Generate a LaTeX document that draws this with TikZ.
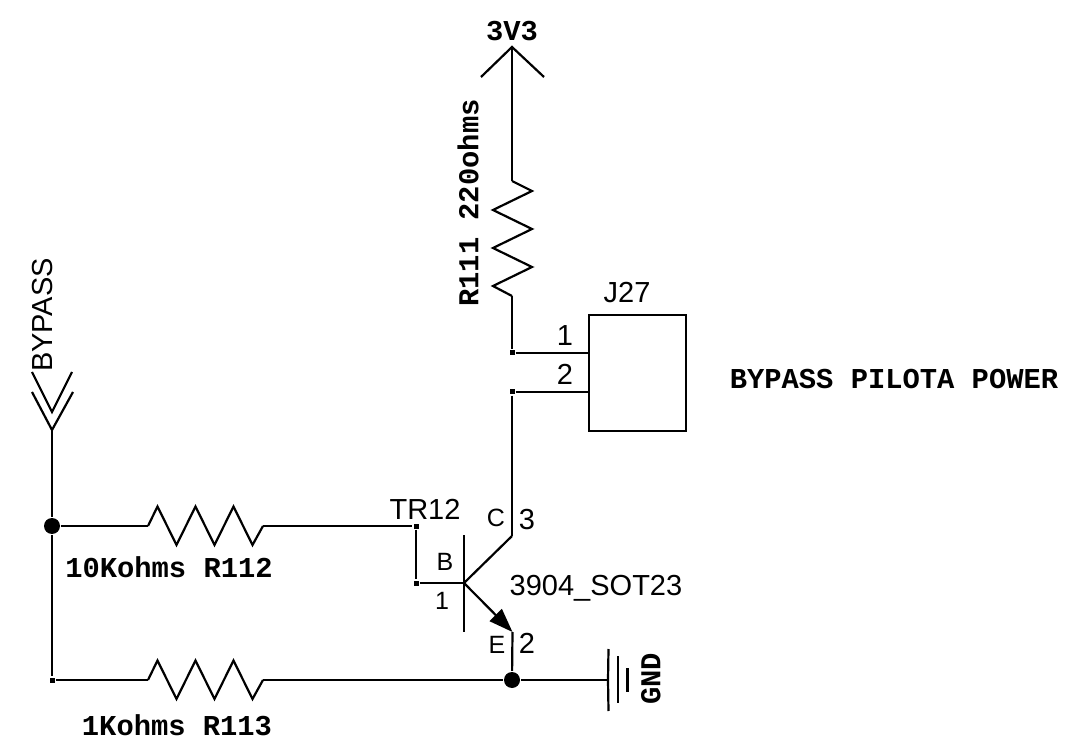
\documentclass[tikz,border=0pt]{standalone}
\usepackage{fontspec}
\setmainfont{Liberation Sans}
\newfontfamily\netfont{Liberation Mono}[BoldFont={Liberation Mono Bold}]
\usetikzlibrary{arrows.meta}

\begin{document}
\begin{tikzpicture}[x=1pt, y=-1pt, line width=2.2pt,
    dot/.style={circle, fill=black, draw=none, inner sep=0pt, minimum size=16pt},
    corner/.style={rectangle, fill=black, draw=none, inner sep=0pt, minimum size=5pt},
    net/.style={inner sep=0pt, font=\netfont\bfseries\fontsize{28.8}{30}\selectfont},
    part/.style={inner sep=0pt, font=\fontsize{29}{30}\selectfont},
    pinname/.style={inner sep=0pt, font=\fontsize{25}{26}\selectfont}]
    \useasboundingbox (0,0) rectangle (1077,751);

    \coordinate (vcc) at (512,47);
    \coordinate (r111a) at (512,181);
    \coordinate (r111b) at (512,296);
    \node (p1) [corner] at (512,353) {};
    \node (p2) [corner] at (512,392) {};
    \coordinate (j1) at (589,353);
    \coordinate (j2) at (589,392);
    \node (J27) [draw, minimum width=97pt, minimum height=116pt, inner sep=0pt] at (637.5,373) {};
    \coordinate (col) at (512,536);
    \coordinate (base) at (464,583);
    \coordinate (baseup) at (464,535);
    \coordinate (basedown) at (464,632);
    \coordinate (em) at (512.5,632);
    \node (gnddot) [dot] at (512,680) {};
    \coordinate (gnd) at (608,680);
    \node (b1) [corner] at (416,583) {};
    \node (b2) [corner] at (416,526) {};
    \coordinate (in) at (52,430);
    \node (indot) [dot] at (52,526) {};
    \node (q1) [corner] at (52,680) {};
    \coordinate (r112a) at (148,526);
    \coordinate (r112b) at (263,526);
    \coordinate (r113a) at (148,680);
    \coordinate (r113b) at (263,680);

    % supply and input arrows
    \draw (481,77) -- (vcc) -- (544,77);
    \draw (32,392) -- (in) -- (73,392);
    \draw (32,372) -- (52,412) -- (72,372);

    % wires
    \draw (vcc) edge (r111a);
    \draw (r111b) edge (p1);
    \draw (p1) edge (j1);
    \draw (p2) edge (j2);
    \draw (p2) edge (col);
    \draw (in) edge (indot);
    \draw (indot) edge (q1);
    \draw (indot) edge (r112a);
    \draw (r112b) edge (b2);
    \draw (b2) edge (b1);
    \draw (b1) edge (base);
    \draw (q1) edge (r113a);
    \draw (r113b) edge (gnddot);
    \draw (gnddot) edge (gnd);
    \draw (em) edge (gnddot);

    % resistors
    \draw (r111a) -- ++(20,10) -- ++(-39,19) -- ++(39,19) -- ++(-39,19) -- ++(39,19) -- ++(-39,19) -- (r111b);
    \draw (r112a) -- ++(9.5,-19.5) -- ++(19,38.5) -- ++(19,-38.5) -- ++(19,38.5) -- ++(19,-38.5) -- ++(19,38.5) -- (r112b);
    \draw (r113a) -- ++(9.5,-19.5) -- ++(19,38.5) -- ++(19,-38.5) -- ++(19,38.5) -- ++(19,-38.5) -- ++(19,38.5) -- (r113b);

    % transistor
    \draw (baseup) edge (basedown);
    \draw (base) edge (col);
    \draw [-{Triangle[length=24pt,width=17pt]}] (base) -- (em);

    % ground
    \draw (608.5,649) -- (gnd) -- (608.5,711);
    \draw (618,656) -- (618,703);
    \draw (627.5,668) -- (627.5,692);

    % labels
    \node (l3v3) [net] at (512,31) {3V3};
    \node (lr111) [net, rotate=90] at (468,203) {R111 220ohms};
    \node (lpower) [net] at (894,379) {BYPASS PILOTA POWER};
    \node (lr112) [net] at (169,567) {10Kohms R112};
    \node (lr113) [net] at (177,725) {1Kohms R113};
    \node (lgnd) [net, rotate=90] at (651,679) {GND};
    \node (lbypass) [part, rotate=90] at (43,315) {BYPASS};
    \node (lj27) [part] at (627,293) {J27};
    \node (ltr12) [part] at (425,509) {TR12};
    \node (lsot) [part] at (596,588) {3904\_SOT23};
    \node (pin1) [part] at (565,336) {1};
    \node (pin2) [part] at (565,374) {2};
    \node (pin3) [part] at (527,520) {3};
    \node (pin4) [part] at (527,643) {2};
    \node (pin5) [pinname] at (442,601) {1};
    \node (nc) [pinname] at (496,518) {C};
    \node (nb) [pinname] at (445,562) {B};
    \node (ne) [pinname] at (497,645) {E};
\end{tikzpicture}
\end{document}
